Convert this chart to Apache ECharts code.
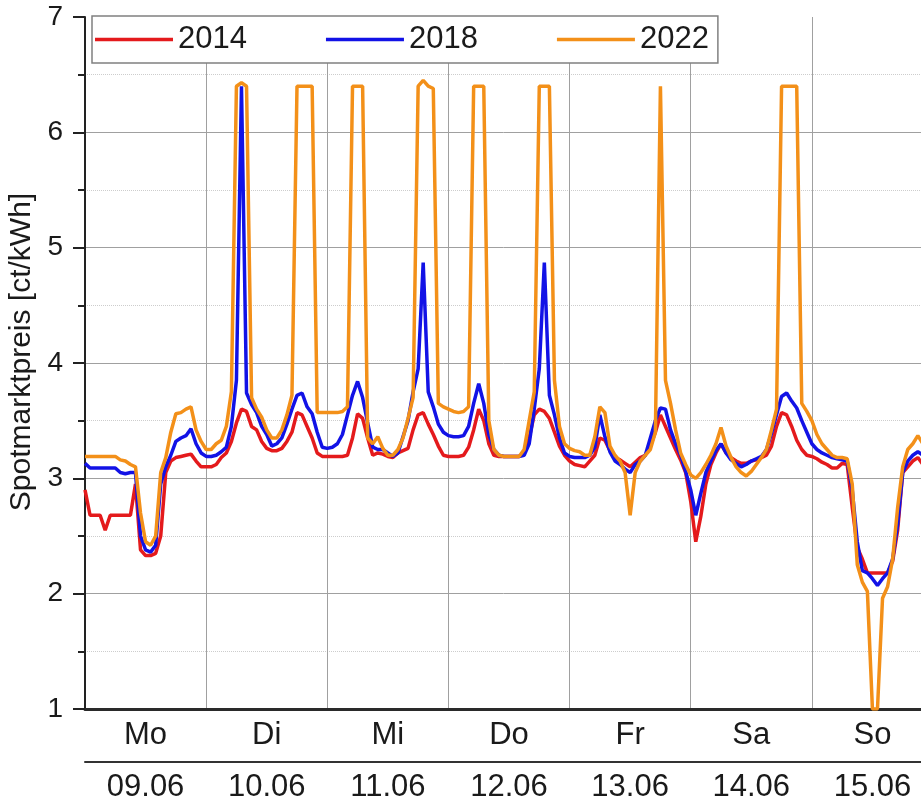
<!DOCTYPE html>
<html>
<head>
<meta charset="utf-8">
<title>Spotmarktpreis</title>
<script src="https://cdn.jsdelivr.net/npm/echarts@6/dist/echarts.min.js"></script>
<style>
    html, body { margin: 0; padding: 0; background: #fff; }
    #main { width: 921px; height: 811px; }
</style>
</head>
<body>
<div id="main"></div>
<script>
// hourly values, 09.06 00:00 onwards (Sunday is cut off on the right)
var price2014 = [
    2.9, 2.68, 2.68, 2.68, 2.55, 2.68, 2.68, 2.68, 2.68, 2.68, 2.95, 2.38, 2.33, 2.33, 2.35, 2.5, 3.05, 3.15, 3.18, 3.19, 3.2, 3.21, 3.15, 3.1,
    3.1, 3.1, 3.12, 3.18, 3.22, 3.32, 3.48, 3.6, 3.58, 3.45, 3.42, 3.32, 3.26, 3.24, 3.24, 3.26, 3.32, 3.4, 3.57, 3.55, 3.45, 3.35, 3.22, 3.19,
    3.19, 3.19, 3.19, 3.19, 3.2, 3.35, 3.56, 3.52, 3.35, 3.2, 3.22, 3.21, 3.19, 3.18, 3.22, 3.24, 3.26, 3.42, 3.55, 3.57, 3.47, 3.38, 3.28, 3.2,
    3.19, 3.19, 3.19, 3.2, 3.27, 3.42, 3.6, 3.5, 3.3, 3.2, 3.19, 3.19, 3.19, 3.19, 3.19, 3.22, 3.35, 3.55, 3.6, 3.58, 3.52, 3.4, 3.28, 3.2,
    3.15, 3.12, 3.11, 3.1, 3.15, 3.2, 3.35, 3.33, 3.24, 3.18, 3.16, 3.13, 3.1, 3.14, 3.18, 3.2, 3.28, 3.4, 3.55, 3.45, 3.35, 3.25, 3.16, 3.05,
    2.8, 2.45, 2.67, 2.95, 3.12, 3.22, 3.3, 3.22, 3.18, 3.15, 3.13, 3.13, 3.15, 3.16, 3.18, 3.2, 3.28, 3.45, 3.57, 3.55, 3.45, 3.33, 3.25, 3.2,
    3.19, 3.17, 3.14, 3.12, 3.09, 3.09, 3.13, 3.12, 2.75, 2.4, 2.3, 2.18, 2.18, 2.18, 2.18, 2.18, 2.28, 2.55, 3.05, 3.1, 3.15, 3.18, 3.12
];
var price2018 = [
    3.13, 3.09, 3.09, 3.09, 3.09, 3.09, 3.09, 3.05, 3.04, 3.05, 3.05, 2.5, 2.38, 2.36, 2.42, 2.95, 3.1, 3.2, 3.32, 3.35, 3.37, 3.43, 3.3, 3.22,
    3.19, 3.19, 3.2, 3.23, 3.27, 3.45, 3.85, 6.4, 3.74, 3.64, 3.57, 3.45, 3.38, 3.28, 3.3, 3.35, 3.47, 3.6, 3.72, 3.74, 3.62, 3.56, 3.4, 3.27,
    3.26, 3.27, 3.3, 3.38, 3.55, 3.72, 3.84, 3.7, 3.48, 3.27, 3.25, 3.25, 3.22, 3.19, 3.22, 3.36, 3.5, 3.75, 3.95, 4.87, 3.75, 3.62, 3.47, 3.4,
    3.37, 3.36, 3.36, 3.37, 3.45, 3.65, 3.82, 3.65, 3.38, 3.25, 3.2, 3.19, 3.19, 3.19, 3.19, 3.2, 3.3, 3.6, 3.95, 4.87, 3.72, 3.55, 3.35, 3.22,
    3.19, 3.18, 3.18, 3.18, 3.2, 3.27, 3.55, 3.36, 3.23, 3.15, 3.12, 3.08, 3.05, 3.12, 3.15, 3.2, 3.35, 3.5, 3.61, 3.6, 3.42, 3.3, 3.2, 3.06,
    2.9, 2.68, 2.87, 3.05, 3.15, 3.24, 3.3, 3.22, 3.16, 3.13, 3.1, 3.12, 3.15, 3.17, 3.19, 3.25, 3.39, 3.55, 3.71, 3.74, 3.67, 3.61, 3.5, 3.4,
    3.3, 3.25, 3.22, 3.2, 3.18, 3.17, 3.16, 3.15, 2.9, 2.45, 2.2, 2.18, 2.13, 2.07, 2.13, 2.18, 2.3, 2.6, 3.05, 3.15, 3.2, 3.23, 3.2
];
var price2022 = [
    3.19, 3.19, 3.19, 3.19, 3.19, 3.19, 3.19, 3.16, 3.15, 3.12, 3.1, 2.7, 2.45, 2.42, 2.5, 3.05, 3.18, 3.4, 3.56, 3.57, 3.6, 3.62, 3.42, 3.32,
    3.25, 3.25, 3.3, 3.33, 3.45, 3.75, 6.4, 6.43, 6.4, 3.7, 3.6, 3.53, 3.42, 3.35, 3.35, 3.42, 3.55, 3.72, 6.4, 6.4, 6.4, 6.4, 3.57, 3.57,
    3.57, 3.57, 3.57, 3.58, 3.62, 6.4, 6.4, 6.4, 3.35, 3.3, 3.36, 3.26, 3.2, 3.2, 3.25, 3.35, 3.52, 3.7, 6.4, 6.45, 6.4, 6.38, 3.65, 3.62,
    3.6, 3.58, 3.57, 3.58, 3.62, 6.4, 6.4, 6.4, 3.5, 3.25, 3.2, 3.19, 3.19, 3.19, 3.19, 3.25, 3.5, 3.75, 6.4, 6.4, 6.4, 3.85, 3.45, 3.3,
    3.26, 3.24, 3.23, 3.2, 3.2, 3.36, 3.62, 3.57, 3.28, 3.2, 3.15, 3.05, 2.68, 3.05, 3.15, 3.2, 3.25, 3.4, 6.4, 3.85, 3.65, 3.42, 3.22, 3.12,
    3.03, 3.0, 3.05, 3.12, 3.2, 3.3, 3.44, 3.28, 3.18, 3.1, 3.05, 3.02, 3.06, 3.12, 3.18, 3.25, 3.42, 3.6, 6.4, 6.4, 6.4, 6.4, 3.65, 3.58,
    3.5, 3.38, 3.3, 3.25, 3.2, 3.18, 3.18, 3.17, 2.95, 2.25, 2.1, 2.02, 1.0, 1.0, 1.96, 2.06, 2.3, 2.75, 3.1, 3.25, 3.3, 3.37, 3.3
];
var dayNames = ['Mo', 'Di', 'Mi', 'Do', 'Fr', 'Sa', 'So'];
var dayDates = ['09.06', '10.06', '11.06', '12.06', '13.06', '14.06', '15.06'];
var yearNames = ['2014', '2018', '2022'];
var yearColors = ['#e41a1c', '#1212e6', '#f39019'];

var FONT = '"Liberation Sans", Arial, sans-serif';

var toPairs = function(arr) {
    var out = [];
    for (var i = 0; i < arr.length; i++) {
        out.push([i, arr[i]]);
    }
    return out;
};

// label only in the middle of each day
var dayLabel = function(list) {
    return function(v) {
        if (v % 24 === 12) {
            return list[(v - 12) / 24] || '';
        }
        return '';
    };
};

var myChart = echarts.init(document.getElementById('main'));
var series = [];
var allData = [price2014, price2018, price2022];
for (var s = 0; s < allData.length; s++) {
    series.push({
        name: yearNames[s],
        type: 'line',
        xAxisIndex: 0,
        yAxisIndex: 0,
        symbol: 'none',
        showSymbol: false,
        clip: true,
        color: yearColors[s],
        lineStyle: { width: 3.5, color: yearColors[s] },
        data: toPairs(allData[s])
    });
}

var option = {
    animation: false,
    backgroundColor: '#fff',
    textStyle: { fontFamily: FONT, color: '#1a1a1a' },
    grid: {
        left: 85,
        right: -12,
        top: 17,
        bottom: 102,
        outerBoundsMode: 'none',
        containLabel: false
    },
    legend: {
        left: 92,
        top: 16,
        orient: 'horizontal',
        padding: [8, 9, 8, 3],
        itemGap: 79,
        itemWidth: 78,
        itemHeight: 3.5,
        icon: 'rect',
        backgroundColor: '#fff',
        borderColor: '#808080',
        borderWidth: 1.5,
        borderRadius: 0,
        textStyle: { fontSize: 31, fontFamily: FONT, color: '#1a1a1a', lineHeight: 30 },
        data: yearNames
    },
    xAxis: [{
        type: 'value',
        min: 0,
        max: 168,
        interval: 24,
        axisLine: { show: true, onZero: false, lineStyle: { color: '#2a2a2a', width: 3 } },
        axisTick: { show: false },
        axisLabel: { show: false },
        splitLine: { show: true, lineStyle: { color: '#a0a0a0', width: 1 } }
    }, {
        type: 'value',
        position: 'bottom',
        min: 0,
        max: 168,
        interval: 12,
        axisLine: { show: false },
        axisTick: { show: false },
        splitLine: { show: false },
        axisLabel: {
            margin: 11,
            fontSize: 31,
            fontFamily: FONT,
            color: '#1a1a1a',
            formatter: dayLabel(dayNames)
        }
    }, {
        type: 'value',
        position: 'bottom',
        offset: 53,
        min: 0,
        max: 168,
        interval: 12,
        axisLine: { show: true, onZero: false, lineStyle: { color: '#333', width: 2 } },
        axisTick: { show: false },
        splitLine: { show: false },
        axisLabel: {
            margin: 10,
            fontSize: 31,
            fontFamily: FONT,
            color: '#1a1a1a',
            formatter: dayLabel(dayDates)
        }
    }],
    yAxis: {
        type: 'value',
        min: 1,
        max: 7,
        interval: 1,
        name: 'Spotmarktpreis [ct/kWh]',
        nameLocation: 'middle',
        nameGap: 44,
        nameTextStyle: { fontSize: 30, fontFamily: FONT, color: '#1a1a1a', padding: [0, 0, 0, 22] },
        axisLine: { show: true, lineStyle: { color: '#222', width: 2 } },
        axisTick: { show: true, length: 12, lineStyle: { color: '#222', width: 2 } },
        minorTick: { show: true, splitNumber: 2, length: 7, lineStyle: { color: '#222', width: 2 } },
        axisLabel: { fontSize: 28, margin: 22, fontFamily: FONT, color: '#1a1a1a' },
        splitLine: { show: true, showMaxLine: false, lineStyle: { color: '#a0a0a0', width: 1 } },
        minorSplitLine: { show: true, lineStyle: { color: '#cdcdcd', width: 1, type: 'dotted' } }
    },
    series: series
};
myChart.setOption(option);
</script>
</body>
</html>
